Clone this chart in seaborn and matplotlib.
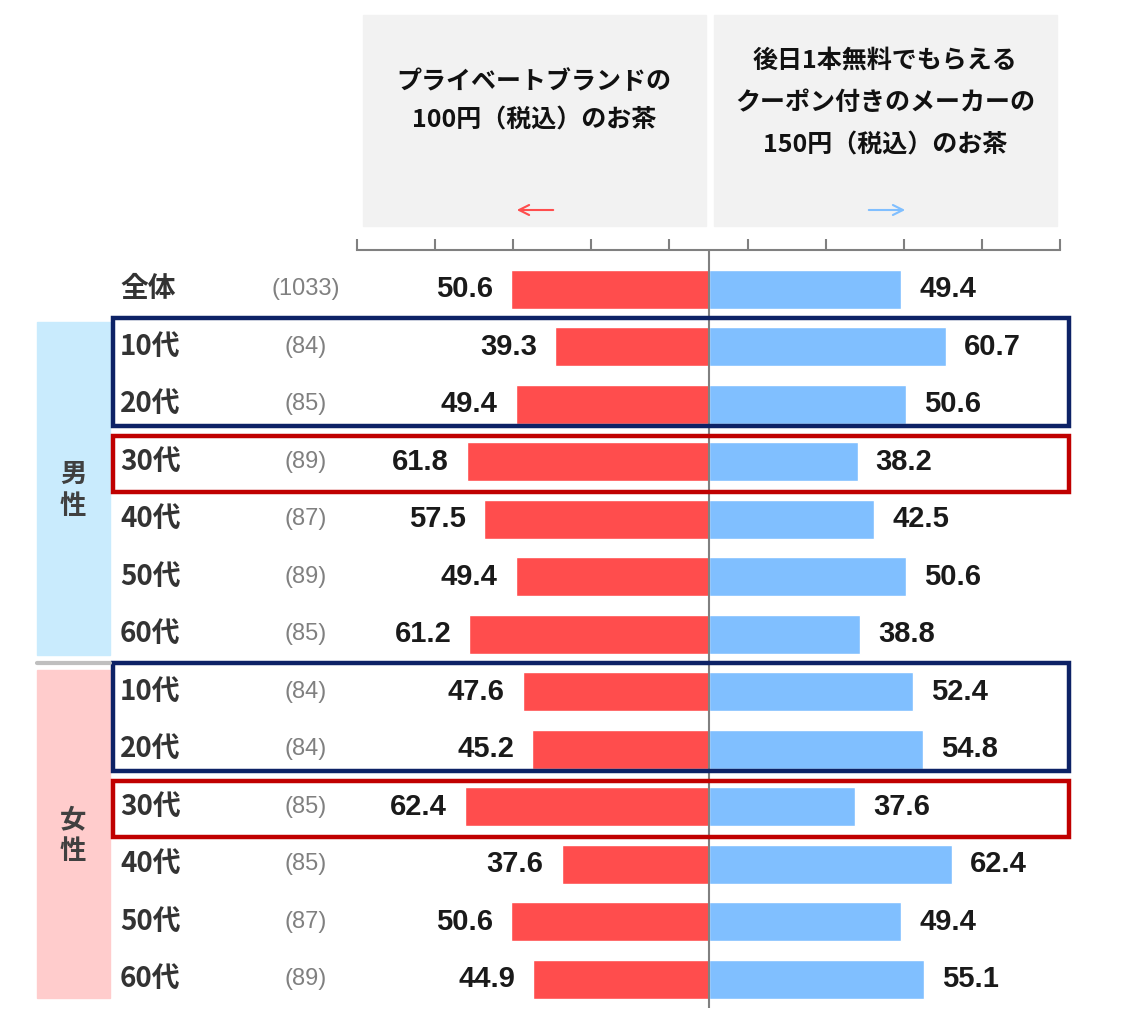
import matplotlib
matplotlib.use("Agg")
import matplotlib.pyplot as plt
import matplotlib.transforms as mtransforms
from matplotlib.patches import Rectangle
import pandas as pd
import seaborn as sns

# data
groups = ["", "男性", "男性", "男性", "男性", "男性", "男性",
          "女性", "女性", "女性", "女性", "女性", "女性"]
ages = ["全体", "10代", "20代", "30代", "40代", "50代", "60代",
        "10代", "20代", "30代", "40代", "50代", "60代"]
counts = [1033, 84, 85, 89, 87, 89, 85, 84, 84, 85, 85, 87, 89]
pb_tea = [50.6, 39.3, 49.4, 61.8, 57.5, 49.4, 61.2, 47.6, 45.2, 62.4, 37.6, 50.6, 44.9]
maker_tea = [49.4, 60.7, 50.6, 38.2, 42.5, 50.6, 38.8, 52.4, 54.8, 37.6, 62.4, 49.4, 55.1]
left_title = "プライベートブランドの\n100円（税込）のお茶"
right_title = "後日1本無料でもらえる\nクーポン付きのメーカーの\n150円（税込）のお茶"

RED = "#ff4d4d"
BLUE = "#80bfff"

sns.set_theme(style="white")
plt.rcParams['font.family'] = ['Noto Sans CJK JP', 'DejaVu Sans']

keys = [g + a for g, a in zip(groups, ages)]
df = pd.DataFrame({
    "row": keys * 2,
    "value": [-v for v in pb_tea] + maker_tea,
    "side": ["pb"] * len(keys) + ["maker"] * len(keys),
})

W, H = 1132, 1028
fig = plt.figure(figsize=(W / 100, H / 100), dpi=100)
fig.patch.set_facecolor("white")

# bar axes: x from -90..90 between pixel 357 and 1060, top line at y=250
ax = fig.add_axes([357 / W, 1 - 1008 / H, (1060 - 357) / W, (1008 - 250) / H])
sns.barplot(data=df, x="value", y="row", hue="side", orient="h", dodge=False,
            palette={"pb": RED, "maker": BLUE}, width=0.68, legend=False, ax=ax,
            saturation=1)
ax.set_xlim(-90, 90)
ax.set_ylim(12.5, -0.68)
ax.patch.set_alpha(0)
for s in ["left", "right", "bottom"]:
    ax.spines[s].set_visible(False)
ax.spines["top"].set_color("#808080")
ax.spines["top"].set_linewidth(1.5)
ax.xaxis.tick_top()
ax.set_xticks([-90, -70, -50, -30, -10, 10, 30, 50, 70, 90])
ax.tick_params(axis="x", direction="out", length=8, width=1.5, color="#808080",
               labeltop=False, labelbottom=False, top=True, bottom=False)
ax.set_yticks([])
ax.set_xlabel("")
ax.set_ylabel("")
ax.axvline(0, color="#808080", lw=1.5, zorder=5)

vfont = dict(family=['Liberation Sans', 'DejaVu Sans'], fontsize=21,
             fontweight="bold", color="#1a1a1a")
ax.bar_label(ax.containers[0], labels=[f"{v:.1f}" for v in pb_tea], padding=13, **vfont)
ax.bar_label(ax.containers[1], labels=[f"{v:.1f}" for v in maker_tea], padding=13, **vfont)

# overlay in pixel coordinates
ov = fig.add_axes([0, 0, 1, 1], zorder=3)
ov.set_xlim(0, W)
ov.set_ylim(H, 0)
ov.axis("off")
ov.patch.set_alpha(0)
rowt = mtransforms.blended_transform_factory(ov.transData, ax.transData)

# header boxes
ov.add_patch(Rectangle((363, 15), 343, 211, color="#f2f2f2", zorder=0))
ov.add_patch(Rectangle((714, 15), 343, 211, color="#f2f2f2", zorder=0))
ov.text(534, 101, left_title, ha="center", va="center", fontsize=18,
        fontweight="bold", color="#111111", linespacing=1.75)
ov.text(885, 103, right_title, ha="center", va="center", fontsize=18,
        fontweight="bold", color="#111111", linespacing=1.95)
ov.annotate("", xy=(514, 210), xytext=(556, 210),
            arrowprops=dict(arrowstyle="->,head_length=0.6,head_width=0.3", color=RED, lw=1.5))
ov.annotate("", xy=(908, 210), xytext=(866, 210),
            arrowprops=dict(arrowstyle="->,head_length=0.6,head_width=0.3", color=BLUE, lw=1.5))

# group bands
ov.add_patch(Rectangle((37, 1 - 0.43), 73, 5.8, transform=rowt, color="#c9ebfd", zorder=0))
ov.add_patch(Rectangle((37, 7 - 0.37), 73, 5.7, transform=rowt, color="#ffcccc", zorder=0))
ov.plot([37, 110], [6.5, 6.5], transform=rowt, color="#bfbfbf", lw=3)
ov.text(73, 3.5, "男\n性", transform=rowt, ha="center", va="center", fontsize=19,
        fontweight="bold", color="#404040", linespacing=1.25)
ov.text(73, 9.5, "女\n性", transform=rowt, ha="center", va="center", fontsize=19,
        fontweight="bold", color="#404040", linespacing=1.25)

# row labels and sample sizes
for i, (a, n) in enumerate(zip(ages, counts)):
    ov.text(120, i, a, transform=rowt, ha="left", va="center", fontsize=20,
            fontweight="bold", color="#333333")
    ov.text(306, i, f"({n})", transform=rowt, ha="center", va="center",
            family=['Liberation Sans', 'DejaVu Sans'], fontsize=17, color="#808080")

# highlight boxes
for r0, r1, col in [(1, 2, "#0d2266"), (7, 8, "#0d2266")]:
    ov.add_patch(Rectangle((113, r0 - 0.5), 956, (r1 - r0) + 0.88, transform=rowt,
                           fill=False, ec=col, lw=3.2))
for r, col in [(3, "#c00000"), (9, "#c00000")]:
    ov.add_patch(Rectangle((113, r - 0.44), 956, 0.96, transform=rowt,
                           fill=False, ec=col, lw=3.2))

fig.savefig("out.png", dpi=100)
